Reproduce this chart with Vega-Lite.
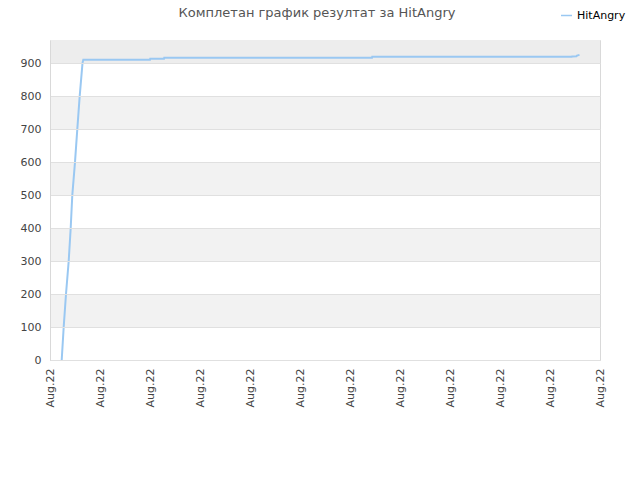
{
  "$schema": "https://vega.github.io/schema/vega-lite/v6.json",
  "width": 550,
  "height": 320,
  "autosize": "none",
  "padding": {"left": 50, "top": 40, "right": 40, "bottom": 120},
  "background": "white",
  "title": {
    "text": "Комплетан график резултат за HitAngry",
    "font": "DejaVu Sans",
    "fontSize": 13,
    "fontWeight": "normal",
    "color": "#555555",
    "anchor": "middle",
    "dx": -8,
    "offset": -11
  },
  "config": {
    "font": "DejaVu Sans",
    "view": {"stroke": "#d9d9d9", "strokeWidth": 1}
  },
  "layer": [
    {
      "data": {
        "values": [
          {"lo": 100, "hi": 200, "band": "light"},
          {"lo": 300, "hi": 400, "band": "light"},
          {"lo": 500, "hi": 600, "band": "light"},
          {"lo": 700, "hi": 800, "band": "light"},
          {"lo": 900, "hi": 970, "band": "top"}
        ]
      },
      "mark": {"type": "rect"},
      "encoding": {
        "y": {
          "field": "lo",
          "type": "quantitative",
          "scale": {"domain": [0, 970], "nice": false},
          "axis": {
            "title": null,
            "values": [0, 100, 200, 300, 400, 500, 600, 700, 800, 900],
            "labelFontSize": 11,
            "labelColor": "#444444",
            "labelPadding": 9,
            "labelOverlap": false,
            "ticks": false,
            "grid": true,
            "gridColor": "#e0e0e0",
            "domainColor": "#d9d9d9",
            "zindex": 1
          }
        },
        "y2": {"field": "hi"},
        "color": {
          "field": "band",
          "type": "nominal",
          "scale": {"domain": ["light", "top"], "range": ["#f2f2f2", "#ededed"]},
          "legend": null
        }
      }
    },
    {
      "data": {
        "values": [
          {"t": 2.34, "score": 0, "player": "HitAngry"},
          {"t": 2.74, "score": 100, "player": "HitAngry"},
          {"t": 3.2, "score": 200, "player": "HitAngry"},
          {"t": 3.74, "score": 300, "player": "HitAngry"},
          {"t": 4.14, "score": 400, "player": "HitAngry"},
          {"t": 4.46, "score": 500, "player": "HitAngry"},
          {"t": 5.0, "score": 600, "player": "HitAngry"},
          {"t": 5.46, "score": 700, "player": "HitAngry"},
          {"t": 5.94, "score": 800, "player": "HitAngry"},
          {"t": 6.5, "score": 900, "player": "HitAngry"},
          {"t": 6.66, "score": 910, "player": "HitAngry"},
          {"t": 20.0, "score": 910, "player": "HitAngry"},
          {"t": 20.05, "score": 913, "player": "HitAngry"},
          {"t": 22.8, "score": 913, "player": "HitAngry"},
          {"t": 22.85, "score": 916, "player": "HitAngry"},
          {"t": 64.4, "score": 916, "player": "HitAngry"},
          {"t": 64.45, "score": 919, "player": "HitAngry"},
          {"t": 104.34, "score": 919, "player": "HitAngry"},
          {"t": 104.4, "score": 920, "player": "HitAngry"},
          {"t": 105.3, "score": 921, "player": "HitAngry"},
          {"t": 105.4, "score": 923, "player": "HitAngry"},
          {"t": 105.9, "score": 925, "player": "HitAngry"}
        ]
      },
      "mark": {"type": "line", "strokeWidth": 2, "interpolate": "linear", "zindex": 2},
      "encoding": {
        "x": {
          "field": "t",
          "type": "quantitative",
          "scale": {"domain": [0, 110], "nice": false, "zero": false},
          "axis": {
            "title": null,
            "values": [0, 10, 20, 30, 40, 50, 60, 70, 80, 90, 100, 110],
            "labelExpr": "'Aug.22'",
            "labelAngle": -90,
            "labelAlign": "right",
            "labelBaseline": "middle",
            "labelFontSize": 11,
            "labelColor": "#444444",
            "labelPadding": 8,
            "ticks": false,
            "grid": false,
            "domainColor": "#d9d9d9",
            "labelOverlap": false
          }
        },
        "y": {
          "field": "score",
          "type": "quantitative",
          "scale": {"domain": [0, 970], "nice": false},
          "axis": {
            "title": null,
            "values": [0, 100, 200, 300, 400, 500, 600, 700, 800, 900],
            "labelFontSize": 11,
            "labelColor": "#444444",
            "labelPadding": 9,
            "labelOverlap": false,
            "ticks": false,
            "grid": true,
            "gridColor": "#e0e0e0",
            "domainColor": "#d9d9d9",
            "zindex": 1
          }
        },
        "stroke": {
          "field": "player",
          "type": "nominal",
          "scale": {"range": ["#9ac8f2"]},
          "legend": {
            "title": null,
            "orient": "none",
            "legendX": 510,
            "legendY": -31,
            "symbolType": "stroke",
            "symbolSize": 120,
            "symbolStrokeWidth": 1.5,
            "labelFontSize": 11,
            "labelColor": "#000000"
          }
        }
      }
    }
  ]
}
